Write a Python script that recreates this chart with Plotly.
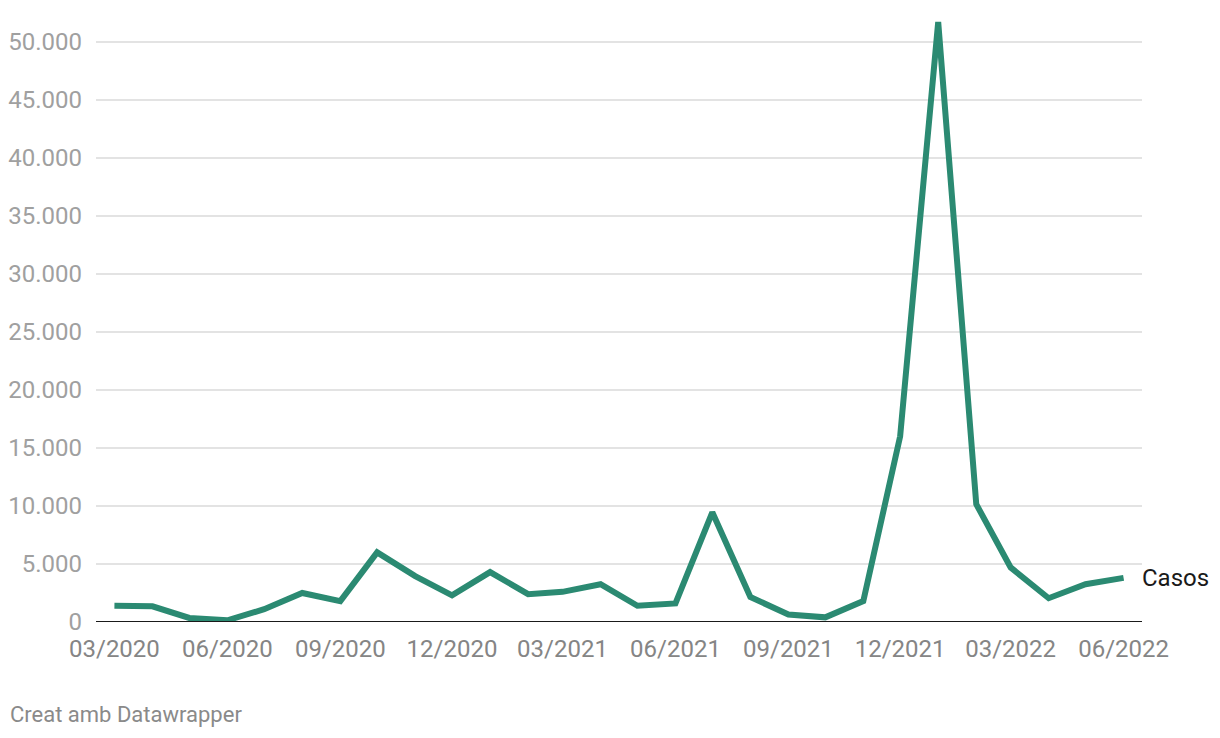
import plotly.graph_objects as go

months = ["2020-03-01","2020-04-01","2020-05-01","2020-06-01","2020-07-01","2020-08-01",
          "2020-09-01","2020-10-01","2020-11-01","2020-12-01","2021-01-01","2021-02-01",
          "2021-03-01","2021-04-01","2021-05-01","2021-06-01","2021-07-01","2021-08-01",
          "2021-09-01","2021-10-01","2021-11-01","2021-12-01","2022-01-01","2022-02-01",
          "2022-03-01","2022-04-01","2022-05-01","2022-06-01"]
casos = [1400, 1350, 350, 150, 1100, 2500, 1800, 6000, 3950, 2300, 4300, 2400,
         2600, 3250, 1400, 1600, 9450, 2150, 650, 400, 1800, 16000, 51700, 10150,
         4700, 2050, 3250, 3800]
series_name = "Casos"
ytick_vals = [0, 5000, 10000, 15000, 20000, 25000, 30000, 35000, 40000, 45000, 50000]
ytick_text = ["0", "5.000", "10.000", "15.000", "20.000", "25.000", "30.000",
              "35.000", "40.000", "45.000", "50.000"]
xtick_vals = ["2020-03-01","2020-06-01","2020-09-01","2020-12-01","2021-03-01","2021-06-01",
              "2021-09-01","2021-12-01","2022-03-01","2022-06-01"]
xtick_text = ["03/2020","06/2020","09/2020","12/2020","03/2021","06/2021",
              "09/2021","12/2021","03/2022","06/2022"]
footer = "Creat amb Datawrapper"

fig = go.Figure()
fig.add_trace(go.Scatter(x=months, y=casos, mode="lines",
                         line=dict(color="#2b8a72", width=6), hoverinfo="x+y",
                         showlegend=False))
fig.add_hline(y=0, line=dict(color="#1a1a1a", width=2))

fig.add_annotation(x=months[-1], y=casos[-1], text=series_name, showarrow=False,
                   xanchor="left", yanchor="middle", xshift=16,
                   font=dict(family="Roboto", size=24, color="#1a1a1a"))
fig.add_annotation(xref="paper", yref="paper", x=0, y=0, text=footer, showarrow=False,
                   xanchor="left", yanchor="middle", xshift=-88, yshift=-92,
                   font=dict(family="Roboto", size=22, color="#8a8a8a"))

fig.update_layout(
    width=1220, height=738,
    margin=dict(l=88, r=86, t=0, b=124),
    plot_bgcolor="white", paper_bgcolor="white",
    font=dict(family="Roboto"),
    xaxis=dict(range=["2020-02-15", "2022-06-16"], tickvals=xtick_vals, ticktext=xtick_text,
               showgrid=False, zeroline=False, showline=False, ticks="",
               tickfont=dict(size=24, color="#858585"), ticklabelstandoff=10),
    yaxis=dict(range=[0, 52900], tickvals=ytick_vals, ticktext=ytick_text,
               showgrid=True, gridcolor="#e3e3e3", gridwidth=1.5, zeroline=False,
               ticks="", tickfont=dict(size=24, color="#a0a0a0"), ticklabelstandoff=13),
)

fig.write_html("out.html")
